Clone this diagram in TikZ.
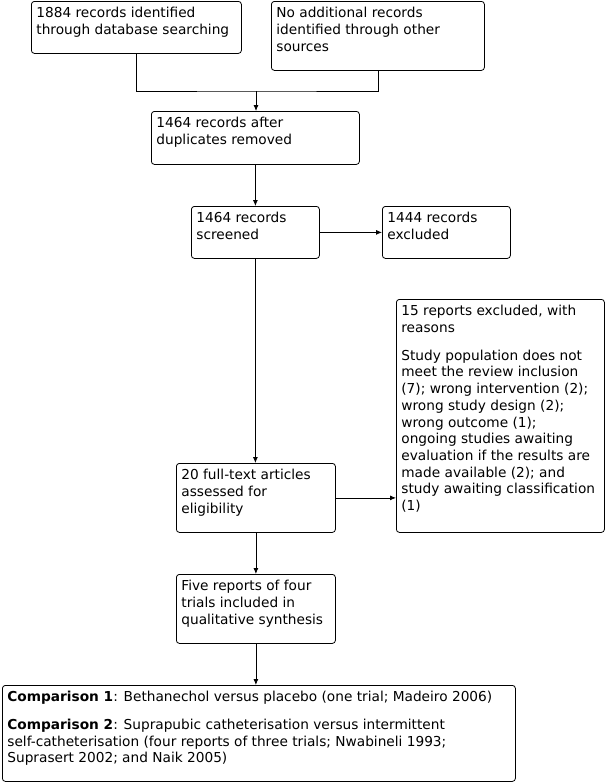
\documentclass[tikz,border=0pt]{standalone}
\usepackage{fontspec}
\setmainfont{DejaVu Sans}
\usetikzlibrary{arrows.meta}
\tikzset{
  flowbox/.style={draw, line width=0.8pt, rounded corners=3pt, anchor=north west,
    inner xsep=5pt, inner ysep=6pt, font=\fontsize{13.7pt}{16.7pt}\selectfont},
  arr/.style={-{Latex[length=6pt,width=5pt]}, line width=0.8pt},
  ln/.style={line width=0.8pt}
}
\newcommand\bxtext[3]{\parbox[t][#2][t]{#1}{\raggedright #3}}
\begin{document}
\begin{tikzpicture}[x=1pt,y=1pt]
\useasboundingbox (0,0) rectangle (606,-782);
\node[flowbox] (A) at (31,-1) {\bxtext{200pt}{40pt}{1884 records identified\\through database searching}};
\node[flowbox] (B) at (271,-1) {\bxtext{203pt}{57pt}{No additional records\\identified through other\\sources}};
\node[flowbox] (C) at (151,-111) {\bxtext{198pt}{41pt}{1464 records after\\duplicates removed}};
\node[flowbox] (D) at (191,-206) {\bxtext{118pt}{40pt}{1464 records\\screened}};
\node[flowbox] (E) at (382,-206) {\bxtext{118pt}{40pt}{1444 records\\excluded}};
\node[flowbox] (F) at (176,-463) {\bxtext{149pt}{57pt}{20 full-text articles\\assessed for\\eligibility}};
\node[flowbox] (G) at (396,-299) {\bxtext{198pt}{221pt}{15 reports excluded, with\\reasons\par\vspace{11pt}
Study population does not\\meet the review inclusion\\(7); wrong intervention (2);\\wrong study design (2);\\wrong outcome (1);\\ongoing studies awaiting\\evaluation if the results are\\made available (2); and\\study awaiting classification\\(1)}};
\node[flowbox] (H) at (176,-574) {\bxtext{149pt}{57pt}{Five reports of four\\trials included in\\qualitative synthesis}};
\node[flowbox] (I) at (2,-685) {\bxtext{503pt}{84pt}{\textbf{Comparison 1}: Bethanechol versus placebo (one trial; Madeiro 2006)\par\vspace{11pt}
\textbf{Comparison 2}: Suprapubic catheterisation versus intermittent\\self-catheterisation (four reports of three trials; Nwabineli 1993;\\Suprasert 2002; and Naik 2005)}};
\coordinate (j) at (256,-91);
\draw[ln] (A.south) |- (j) -| (B.south);
\draw[arr] (j) -- (j |- C.north);
\draw[arr] (C.south) -- (C.south |- D.north);
\draw[arr] (D.east) -- (E.west);
\draw[arr] (D.south) -- (D.south |- F.north);
\draw[arr] (F.east) -- (F.east -| G.west);
\draw[arr] (F.south) -- (F.south |- H.north);
\draw[arr] (H.south) -- (H.south |- I.north);
\end{tikzpicture}
\end{document}
